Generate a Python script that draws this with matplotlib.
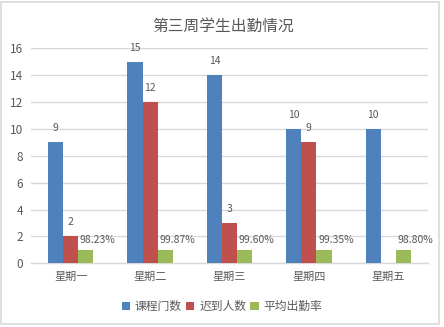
import numpy as np
import matplotlib
matplotlib.use("Agg")
import matplotlib.pyplot as plt
from matplotlib.patches import Rectangle

plt.rcParams['font.family'] = ['Noto Sans CJK SC', 'DejaVu Sans']

categories = ["星期一", "星期二", "星期三", "星期四", "星期五"]
courses = [9, 15, 14, 10, 10]
late = [2, 12, 3, 9, np.nan]
attendance = [0.9823, 0.9987, 0.9960, 0.9935, 0.9880]
series_names = ["课程门数", "迟到人数", "平均出勤率"]
colors = ["#4F81BD", "#C0504D", "#9BBB59"]
title = "第三周学生出勤情况"

text_color = "#595959"
grid_color = "#D9D9D9"

fig = plt.figure(figsize=(4.44, 3.27), dpi=100)
ax = fig.add_axes([31 / 444, 1 - 263.3 / 327, (428 - 31) / 444, (263.3 - 48.3) / 327])

x = np.arange(len(categories))
w = 0.19
offsets = [-w, 0, w]
series = [courses, late, attendance]

for vals, off, col, name in zip(series, offsets, colors, series_names):
    ax.bar(x + off, vals, width=w, color=col, label=name, zorder=3)
    for xi, v in zip(x + off, vals):
        if np.isnan(v):
            continue
        if name == "平均出勤率":
            ax.annotate(f"{v * 100:.2f}%", (xi, v), xytext=(12, 10),
                        textcoords="offset pixels", ha="center", va="center",
                        fontsize=7.5, color=text_color)
        else:
            ax.annotate(f"{v:g}", (xi, v), xytext=(0, 14),
                        textcoords="offset pixels", ha="center", va="center",
                        fontsize=7.5, color=text_color)

ax.set_xlim(-0.5, len(categories) - 0.5)
ax.set_ylim(0, 16)
ax.set_yticks(np.arange(0, 17, 2))
ax.set_xticks(x)
ax.set_xticklabels(categories, fontsize=8)
ax.tick_params(axis="both", length=0, colors=text_color)
ax.tick_params(axis="y", labelsize=8.5, pad=5.5)
ax.tick_params(axis="x", pad=6)
ax.grid(axis="y", color=grid_color, linewidth=1, zorder=0)
for s in ["top", "right", "left"]:
    ax.spines[s].set_visible(False)
ax.spines["bottom"].set_color(grid_color)
ax.spines["bottom"].set_linewidth(1)

fig.text(223 / 444, 1 - 26.7 / 327, title, ha="center", va="center",
         fontsize=11.3, color=text_color)

fig.legend(loc="center", bbox_to_anchor=(222 / 444, 1 - 306.5 / 327), ncol=3,
           frameon=False, fontsize=8.5, handlelength=0.7, handleheight=0.7,
           handletextpad=0.42, columnspacing=0.36, labelcolor=text_color)

fig.patches.append(Rectangle((1 / 444, 1 - 324 / 327), 438 / 444, 322 / 327,
                             transform=fig.transFigure, fill=False,
                             edgecolor="#D9D9D9", linewidth=1.2))

fig.savefig("out.png", dpi=100)
